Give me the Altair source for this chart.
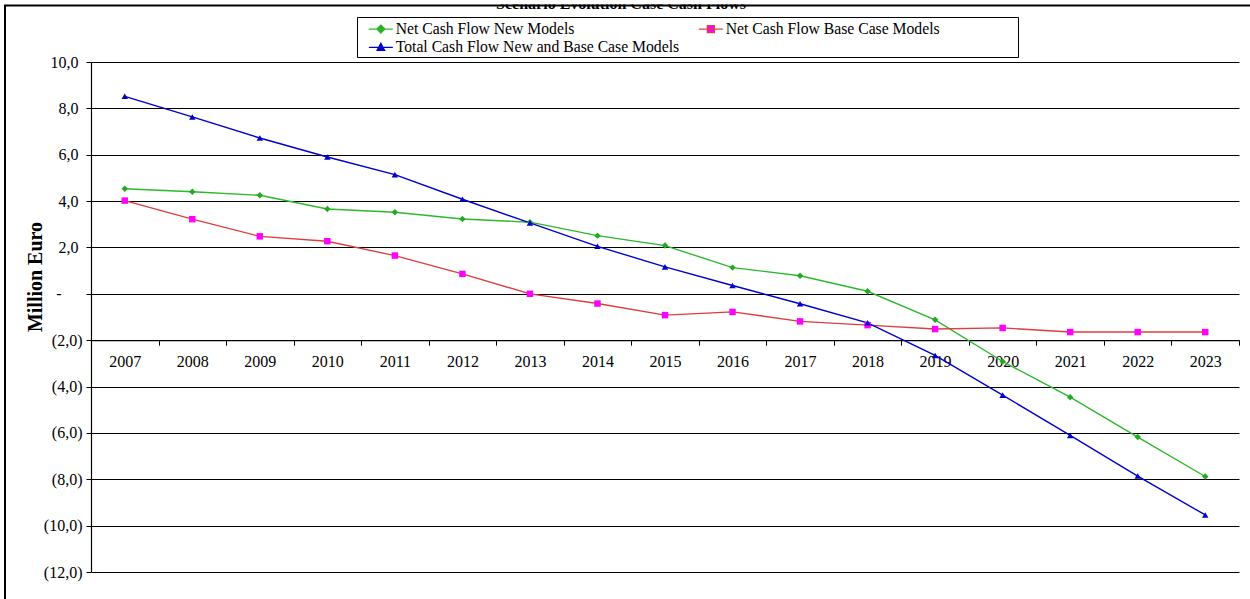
import altair as alt
import pandas as pd

# Cash flow projections, million euro
years = list(range(2007, 2024))
new_models = [4.53, 4.40, 4.25, 3.66, 3.52, 3.23, 3.09, 2.51, 2.08, 1.13, 0.78,
              0.11, -1.12, -2.92, -4.46, -6.18, -7.88]
base_models = [4.02, 3.22, 2.48, 2.27, 1.65, 0.86, 0.00, -0.42, -0.92, -0.78, -1.19,
               -1.35, -1.52, -1.47, -1.65, -1.65, -1.65]
total_models = [8.52, 7.63, 6.72, 5.90, 5.14, 4.08, 3.06, 2.05, 1.16, 0.36, -0.43,
                -1.25, -2.66, -4.37, -6.11, -7.86, -9.54]

series_names = [
    "Net Cash Flow New Models",
    "Net Cash Flow Base Case Models",
    "Total Cash Flow New and Base Case Models",
]
line_colors = ["#2DB82D", "#E03C3C", "#0000CC"]
marker_colors = ["#22AA22", "#FF00FF", "#0000CC"]
marker_shapes = ["diamond", "square", "triangle-up"]
# legend keys: a short line with the series marker in its middle
legend_shapes = [
    "M-2.4,0L2.4,0M0,-0.8L0.8,0L0,0.8L-0.8,0Z",
    "M-2.4,0L2.4,0M-0.7,-0.7L0.7,-0.7L0.7,0.7L-0.7,0.7Z",
    "M-2.4,0L2.4,0M0,-0.8L0.75,0.6L-0.75,0.6Z",
]
# legend entries fill column by column: first column New / Total, second Base
legend_order = [0, 2, 1]

y_ticks = [10, 8, 6, 4, 2, 0, -2, -4, -6, -8, -10, -12]
x_ticks = [y + d for y in range(2006, 2024) for d in (0.5, 1.0)][:-1]

title_text = "Scenario Evolution Case Cash Flows"
serif = "Liberation Serif"

W, H = 1148, 510
PAD_L, PAD_T = 91, 62

rows = []
for name, vals in zip(series_names, [new_models, base_models, total_models]):
    for yr, v in zip(years, vals):
        rows.append({"year": yr, "value": v, "series": name})
df = pd.DataFrame(rows)

# x axis sits on the -2 line
x_axis_offset = H * (10 - (-2)) / 22 - H

y_label_expr = (
    "datum.value == 0 ? '-' : "
    "datum.value < 0 ? '(' + replace(format(-datum.value, '.1f'), '.', ',') + ')' : "
    "replace(format(datum.value, '.1f'), '.', ',')"
)
# accounting-style alignment: positives leave room for ")", the dash sits further left
y_label_padding = {
    "condition": [
        {"test": "datum.value == 0", "value": 25},
        {"test": "datum.value > 0", "value": 8},
    ],
    "value": 4,
}

x_enc = alt.X(
    "year:Q",
    scale=alt.Scale(domain=[2006.5, 2023.5], nice=False, zero=False),
    axis=alt.Axis(
        values=x_ticks,
        labelExpr="datum.value % 1 === 0 ? '' + datum.value : ''",
        tickOpacity={"condition": {"test": "datum.value % 1 === 0", "value": 0}, "value": 1},
        offset=x_axis_offset,
        grid=False,
        title=None,
        labelOverlap=False,
        labelFlush=False,
        labelFont=serif,
        labelFontSize=16,
        labelColor="black",
        labelPadding=8,
        tickSize=5,
        tickColor="black",
        domainColor="black",
        domainWidth=1.2,
    ),
)
y_enc = alt.Y(
    "value:Q",
    scale=alt.Scale(domain=[-12, 10], nice=False, zero=False),
    axis=alt.Axis(
        values=y_ticks,
        labelExpr=y_label_expr,
        labelPadding=y_label_padding,
        title="Million Euro",
        titleFont=serif,
        titleFontSize=20,
        titleFontWeight="bold",
        titleColor="black",
        titleX=35 - PAD_L,
        titleY=276.5 - PAD_T,
        titleAlign="center",
        titleBaseline="middle",
        titleAngle=270,
        labelFont=serif,
        labelFontSize=16,
        labelColor="black",
        tickSize=5,
        tickColor="black",
        domainColor="black",
        domainWidth=1.2,
        gridColor="black",
        gridWidth=1.2,
        gridOpacity=1,
    ),
)

base = alt.Chart(df).encode(x=x_enc, y=y_enc)

lines = base.mark_line(strokeWidth=1.4).encode(
    stroke=alt.Stroke("series:N", scale=alt.Scale(domain=series_names, range=line_colors), legend=None)
)
points = base.mark_point(filled=True, opacity=1, size=42).encode(
    fill=alt.Fill("series:N", scale=alt.Scale(domain=series_names, range=marker_colors), legend=None),
    shape=alt.Shape("series:N", scale=alt.Scale(domain=series_names, range=marker_shapes), legend=None),
)

legend_names = [series_names[i] for i in legend_order]
legend_def = alt.Legend(
    title=None,
    orient="none",
    legendX=282,
    legendY=-41,
    columns=2,
    columnPadding=16,
    rowPadding=1.5,
    padding=0,
    labelFont=serif,
    labelFontSize=15.7,
    labelColor="black",
    labelOffset=7,
    labelLimit=400,
    symbolSize=100,
    symbolStrokeWidth=1.3,
    symbolOpacity=1,
)
legend_layer = alt.Chart(df).transform_filter("false").mark_point(
    filled=True, opacity=1, strokeWidth=1.3
).encode(
    shape=alt.Shape("series:N", scale=alt.Scale(domain=legend_names,
                    range=[legend_shapes[i] for i in legend_order]), legend=legend_def),
    fill=alt.Fill("series:N", scale=alt.Scale(domain=legend_names,
                  range=[marker_colors[i] for i in legend_order]), legend=legend_def),
    stroke=alt.Stroke("series:N", scale=alt.Scale(domain=legend_names,
                      range=[line_colors[i] for i in legend_order]), legend=legend_def),
)

one = alt.Data(values=[{}])

title_mark = alt.Chart(one).mark_text(
    text=title_text, font=serif, fontSize=16, fontWeight="bold",
    align="center", baseline="alphabetic", color="black",
).encode(x=alt.value(621 - PAD_L), y=alt.value(8.5 - PAD_T))

cover = alt.Chart(one).mark_rect(fill="white").encode(
    x=alt.value(-PAD_L), x2=alt.value(1250 - PAD_L),
    y=alt.value(-PAD_T), y2=alt.value(4.5 - PAD_T),
)

frame = alt.Chart(one).mark_rect(fillOpacity=0, stroke="black", strokeWidth=2).encode(
    x=alt.value(5 - PAD_L), x2=alt.value(1300 - PAD_L),
    y=alt.value(5.5 - PAD_T), y2=alt.value(650 - PAD_T),
)

legend_box = alt.Chart(one).mark_rect(fill="white", stroke="black", strokeWidth=1).encode(
    x=alt.value(357.5 - PAD_L), x2=alt.value(1018.5 - PAD_L),
    y=alt.value(17.5 - PAD_T), y2=alt.value(57.5 - PAD_T),
)

chart = alt.layer(
    title_mark, cover, frame, legend_box, lines, points, legend_layer
).resolve_scale(
    shape="independent", fill="independent", stroke="independent"
).properties(
    width=W,
    height=H,
    autosize=alt.AutoSizeParams(type="none"),
    padding={"left": PAD_L, "top": PAD_T, "right": 1250 - PAD_L - W, "bottom": 599 - PAD_T - H},
    background="white",
).configure_view(
    fill="#C0C0C0", stroke="transparent"
)

chart.save("out.html", embed_options={"renderer": "svg", "actions": False})
